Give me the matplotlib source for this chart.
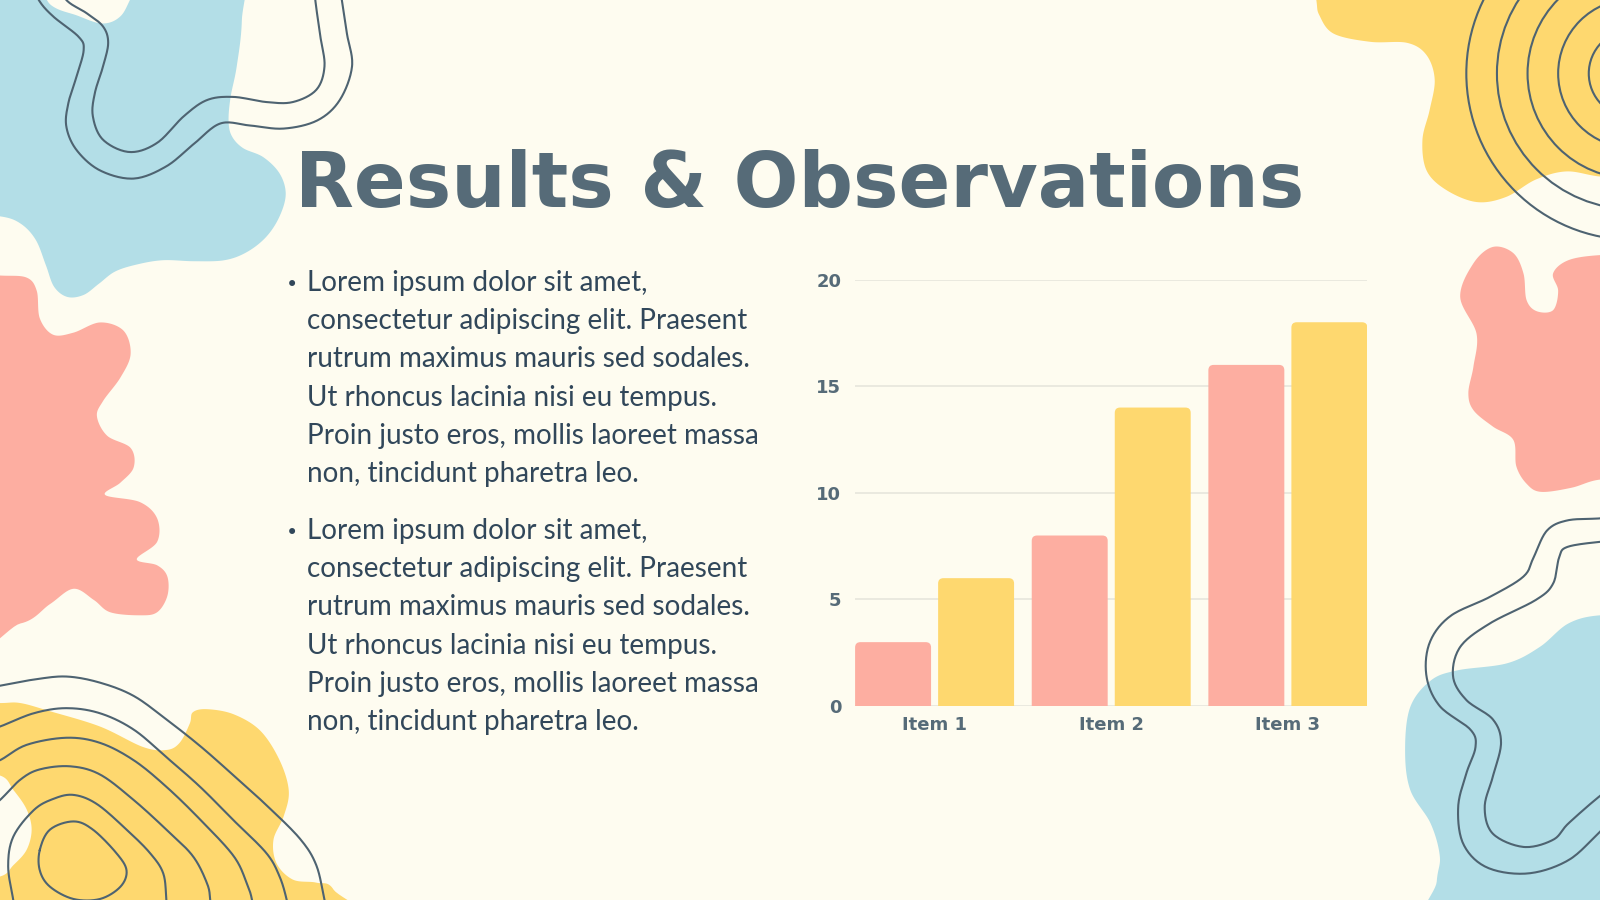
import numpy as np
import matplotlib
matplotlib.use("Agg")
import matplotlib.pyplot as plt
from matplotlib.patches import Polygon, Circle, FancyBboxPatch

# chart data
items = ["Item 1", "Item 2", "Item 3"]
series_a = [3, 8, 16]
series_b = [6, 14, 18]
y_ticks = [0, 5, 10, 15, 20]

title = "Results & Observations"
bullet_lines = [
    "Lorem ipsum dolor sit amet,",
    "consectetur adipiscing elit. Praesent",
    "rutrum maximus mauris sed sodales.",
    "Ut rhoncus lacinia nisi eu tempus.",
    "Proin justo eros, mollis laoreet massa",
    "non, tincidunt pharetra leo.",
]

BG = "#FEFCF0"
PINK = "#FDAEA1"
YELLOW = "#FED86F"
BLUE = "#B3DEE7"
SLATE = "#566B78"
TEXT = "#31475A"
LINE = "#4E6371"
GRID = "#E7E6DC"

# decorative shapes, in page pixels (1568 x 882, y down)
blue_tl = [(-40, -40), (30, -20), (50, 5), (75, 15), (100, 23), (118, 16), (130, -5),
           (150, -40), (235, -40), (237, 20), (232, 65), (226, 95), (224, 118), (227, 133),
           (238, 145), (258, 154), (274, 170), (280, 190), (274, 212), (261, 232),
           (242, 247), (220, 255), (190, 256), (160, 255), (135, 259), (113, 266),
           (97, 278), (82, 289), (66, 291), (53, 281), (45, 260), (35, 235), (20, 219),
           (0, 212), (-40, 210)]
pink_l = [(-40, 268), (0, 270), (26, 272), (36, 285), (39, 312), (52, 328), (72, 326),
          (98, 316), (121, 324), (128, 347), (118, 370), (101, 393), (95, 408),
          (105, 427), (128, 439), (131, 458), (118, 473), (103, 485), (137, 492),
          (154, 508), (154, 531), (134, 548), (154, 554), (164, 565), (164, 584),
          (154, 600), (137, 603), (108, 600), (92, 588), (72, 577), (49, 592),
          (20, 611), (-40, 612)]
yellow_bl = [(-40, 689), (0, 689), (20, 689), (49, 697), (98, 712), (140, 732),
             (163, 735), (176, 728), (186, 709), (189, 698), (203, 695), (229, 700),
             (255, 716), (274, 745), (283, 775), (278, 800), (268, 823), (271, 846),
             (287, 862), (310, 865), (327, 872), (345, 920), (-40, 920), (-40, 864),
             (0, 859), (13, 848), (26, 833), (31, 813), (26, 793), (13, 774), (0, 760),
             (-40, 756)]
yellow_tr = [(1285, -40), (1290, 0), (1293, 15), (1307, 33), (1343, 41), (1379, 42),
             (1398, 54), (1406, 78), (1401, 108), (1394, 137), (1398, 167), (1417, 186),
             (1447, 198), (1476, 193), (1505, 176), (1535, 168), (1568, 173),
             (1610, 175), (1610, -40)]
pink_r = [(1431, 291), (1444, 258), (1463, 242), (1483, 248), (1493, 268), (1496, 294),
          (1506, 305), (1522, 304), (1527, 285), (1522, 268), (1537, 255), (1568, 250),
          (1610, 250), (1610, 470), (1568, 470), (1540, 478), (1510, 482), (1496, 474),
          (1486, 457), (1483, 431), (1463, 418), (1444, 402), (1439, 385), (1444, 359),
          (1447, 327)]
blue_br = [(1537, 611), (1509, 634), (1477, 650), (1428, 657), (1402, 667), (1382, 693),
           (1377, 735), (1382, 774), (1402, 807), (1411, 839), (1408, 864), (1405, 920),
           (1610, 920), (1610, 605), (1568, 603)]

lines_tl = [
    [(30, -20), (38, 0), (52, 16), (77, 36), (82, 49), (75, 75), (67, 101), (65, 124),
     (75, 147), (98, 167), (131, 175), (163, 163), (190, 141), (216, 121), (245, 123),
     (278, 126), (311, 118), (333, 98), (345, 65), (340, 33), (335, 0), (333, -20)],
    [(55, -20), (65, 0), (85, 13), (101, 26), (106, 42), (101, 65), (93, 91), (91, 114),
     (101, 137), (127, 149), (154, 140), (180, 114), (203, 98), (229, 95), (261, 100),
     (287, 100), (310, 88), (318, 65), (314, 36), (309, 0), (308, -20)],
]
lines_br = [
    [(1590, 505), (1568, 508), (1536, 510), (1516, 520), (1503, 546), (1493, 565),
     (1460, 585), (1421, 604), (1401, 630), (1398, 663), (1411, 692), (1441, 715),
     (1446, 732), (1437, 758), (1429, 791), (1434, 827), (1457, 850), (1497, 856),
     (1537, 843), (1568, 815), (1590, 795)],
    [(1590, 530), (1568, 531), (1536, 536), (1528, 546), (1522, 572), (1505, 588),
     (1460, 611), (1431, 634), (1424, 663), (1437, 686), (1463, 705), (1471, 728),
     (1463, 761), (1455, 791), (1463, 817), (1493, 830), (1522, 823), (1537, 807),
     (1568, 780), (1590, 765)],
]
contours_bl = [
    [(-20, 676), (0, 672), (33, 666), (65, 663), (98, 669), (131, 682), (163, 705),
     (196, 731), (229, 760), (261, 789), (294, 822), (310, 848), (318, 882), (322, 900)],
    [(-20, 718), (0, 712), (33, 699), (65, 694), (98, 699), (131, 715), (163, 742),
     (196, 771), (229, 804), (261, 836), (274, 859), (281, 882), (284, 900)],
    [(-20, 752), (0, 745), (26, 730), (65, 723), (98, 728), (131, 745), (163, 771),
     (196, 803), (229, 839), (242, 866), (247, 882), (249, 900)],
    [(-20, 800), (0, 784), (20, 764), (39, 754), (69, 751), (98, 759), (131, 784),
     (163, 813), (189, 839), (203, 866), (206, 882), (207, 900)],
    [(16, 900), (13, 882), (8, 849), (13, 820), (33, 794), (52, 783), (72, 779), (95, 788),
     (124, 813), (147, 836), (160, 856), (163, 882), (164, 900)],
]
loop_bl = [(39, 833), (49, 813), (72, 805), (91, 813), (114, 836), (124, 853), (118, 869),
           (98, 881), (72, 881), (49, 869), (39, 853)]
arc_radii = [163, 133, 103, 73, 43]


def catmull(points, closed=False, n=16):
    p = np.asarray(points, dtype=float)
    if closed:
        p = np.vstack([p[-1], p, p[0], p[1]])
    else:
        p = np.vstack([p[0], p, p[-1]])
    out = []
    t = np.linspace(0, 1, n, endpoint=False)[:, None]
    for i in range(1, len(p) - 2):
        p0, p1, p2, p3 = p[i - 1], p[i], p[i + 1], p[i + 2]
        seg = 0.5 * ((2 * p1) + (-p0 + p2) * t + (2 * p0 - 5 * p1 + 4 * p2 - p3) * t ** 2
                     + (-p0 + 3 * p1 - 3 * p2 + p3) * t ** 3)
        out.append(seg)
    out.append(p[-2][None, :])
    return np.vstack(out)


fig = plt.figure(figsize=(16, 9), dpi=100, facecolor=BG)

bg = fig.add_axes([0, 0, 1, 1], zorder=0)
bg.set_xlim(0, 1568)
bg.set_ylim(882, 0)
bg.axis("off")

for pts, col in [(blue_tl, BLUE), (pink_l, PINK), (yellow_bl, YELLOW),
                 (yellow_tr, YELLOW), (pink_r, PINK), (blue_br, BLUE)]:
    bg.add_patch(Polygon(catmull(pts, closed=True), closed=True, facecolor=col,
                         edgecolor="none", zorder=1))

for pts in lines_tl + lines_br + contours_bl:
    xy = catmull(pts)
    bg.plot(xy[:, 0], xy[:, 1], color=LINE, lw=1.5, zorder=2, solid_capstyle="round")
xy = catmull(loop_bl, closed=True)
bg.plot(xy[:, 0], xy[:, 1], color=LINE, lw=1.5, zorder=2)
for r in arc_radii:
    bg.add_patch(Circle((1600, 72), r, fill=False, edgecolor=LINE, lw=1.5, zorder=2))

# title
bg.text(784, 203, title, ha="center", va="baseline", fontsize=55,
        fontweight="bold", family="DejaVu Sans", color=SLATE, zorder=5)

# bullet text
line_gap = 37.6
for block_y in [277, 520]:
    bg.text(286, block_y + 2, "\u2022", ha="center", va="center", fontsize=15,
            color=TEXT, family="DejaVu Sans", zorder=5)
    for i, line in enumerate(bullet_lines):
        bg.text(301, block_y + i * line_gap, line, ha="left", va="center",
                fontsize=20.1, family="Lato", color=TEXT, zorder=5)

# bar chart
ax = fig.add_axes([838 / 1568, 1 - 692 / 882, 502 / 1568, 418 / 882], zorder=3)
ax.set_facecolor("none")
x = np.arange(len(items))
w = 0.43
off = 0.235
bars_a = ax.bar(x - off, series_a, w, color=PINK, zorder=2)
bars_b = ax.bar(x + off, series_b, w, color=YELLOW, zorder=2)

# swap plain bars for ones with rounded tops
for bars in (bars_a, bars_b):
    for rect in bars:
        rect.set_visible(False)
        ax.add_patch(FancyBboxPatch((rect.get_x(), -1), rect.get_width(),
                                    rect.get_height() + 1,
                                    boxstyle="round,pad=0,rounding_size=0.03",
                                    mutation_aspect=8.3,
                                    facecolor=rect.get_facecolor(), edgecolor="none",
                                    zorder=2))

ax.set_xlim(-0.45, 2.45)
ax.set_ylim(0, 20)
ax.set_yticks(y_ticks)
ax.set_xticks(x)
ax.set_xticklabels(items)
ax.yaxis.grid(True, color=GRID, lw=1.2, zorder=0)
ax.set_axisbelow(True)
for s in ax.spines.values():
    s.set_visible(False)
ax.tick_params(length=0, labelcolor=SLATE)
ax.tick_params(axis="y", pad=10)
ax.tick_params(axis="x", pad=7)
for lab in ax.get_xticklabels() + ax.get_yticklabels():
    lab.set_fontfamily("DejaVu Sans")
    lab.set_fontweight("bold")
    lab.set_fontsize(13)

fig.savefig("out.png", dpi=100, facecolor=BG)
